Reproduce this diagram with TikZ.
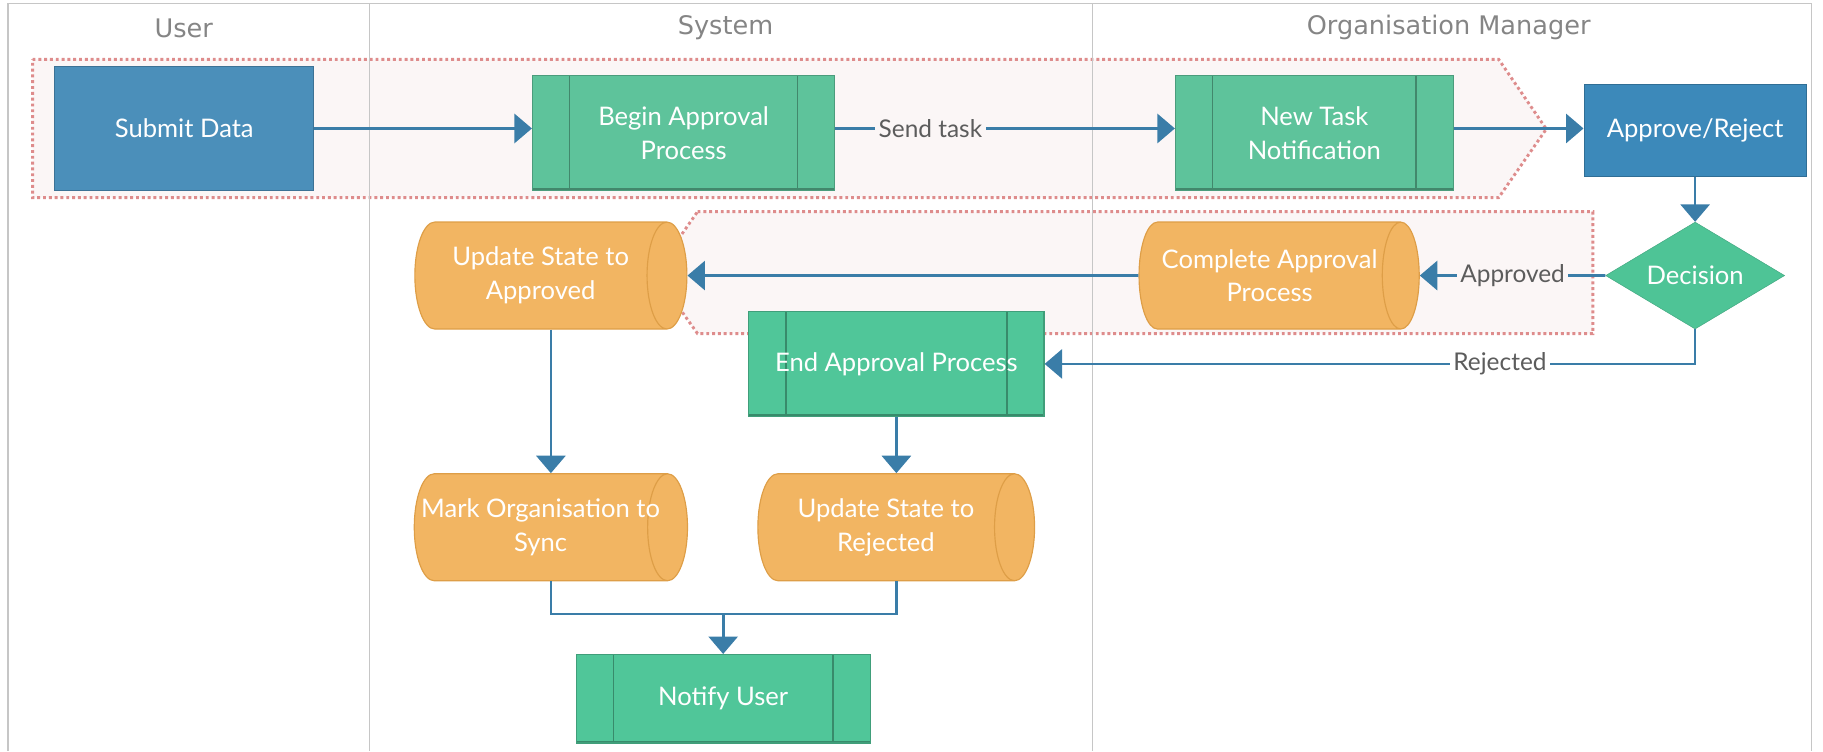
\documentclass[tikz,border=0pt]{standalone}
\usepackage{fontspec}
\setmainfont{Lato}
\newfontfamily\lanefont{DejaVu Sans}
\usepackage{tikz}
\usetikzlibrary{arrows.meta}
\usetikzlibrary{shapes.geometric}

\definecolor{laneline}{HTML}{C6C6C6}
\definecolor{lanetext}{HTML}{858585}
\definecolor{labeltext}{HTML}{5C5C5C}
\definecolor{flowblue}{HTML}{3A7DA8}
\definecolor{userblue}{HTML}{4B8FBA}
\definecolor{mgrblue}{HTML}{3C89BA}
\definecolor{procgreen}{HTML}{5EC39B}
\definecolor{endgreen}{HTML}{50C699}
\definecolor{decgreen}{HTML}{4EC496}
\definecolor{storeorange}{HTML}{F2B562}
\definecolor{storeline}{HTML}{DE9E47}
\definecolor{groupline}{HTML}{DE8C8C}
\definecolor{groupfill}{HTML}{FBF6F6}

\begin{document}
\begin{tikzpicture}[x=1pt,y=-1pt,>/.tip={Triangle[width=25pt,length=15pt]},
	flow/.style={draw=flowblue,line width=2.3pt},
	lane/.style={text=lanetext,font=\lanefont\fontsize{22}{26}\selectfont},
	lbl/.style={text=labeltext,font=\fontsize{21}{25}\selectfont,inner sep=3pt},
	group/.style={draw=groupline,fill=groupfill,line width=2.5pt,dash pattern=on 2.5pt off 2.5pt},
	box/.style={rectangle,draw=#1!80!black,fill=#1,text=white,align=center,
		font=\fontsize{22}{29}\selectfont,line width=1pt,inner sep=0pt},
	proc/.style={box=#1,path picture={
		\draw[#1!70!black,line width=1.3pt] ([xshift=32pt]path picture bounding box.north west) -- ([xshift=32pt]path picture bounding box.south west);
		\draw[#1!70!black,line width=1.3pt] ([xshift=-32pt]path picture bounding box.north east) -- ([xshift=-32pt]path picture bounding box.south east);
		\draw[#1!70!black,line width=4pt] (path picture bounding box.south west) -- (path picture bounding box.south east);
	}},
	store/.style={cylinder,shape border rotate=0,aspect=0.7,draw=storeline,fill=storeorange,
		text=white,align=center,font=\fontsize{22}{29}\selectfont,line width=1pt,inner sep=0pt,
		minimum height=#1,minimum width=92pt},
	decide/.style={diamond,draw=decgreen!85!black,fill=decgreen,text=white,
		font=\fontsize{22}{26}\selectfont,minimum width=154pt,minimum height=92pt,inner sep=0pt,aspect=1.7}
]
\useasboundingbox (0,0) rectangle (1568,646);
\draw[group] (28,51) -- (1289,51) -- (1330,111) -- (1289,170) -- (28,170) -- cycle;
\draw[group] (600,182) -- (1370,182) -- (1370,287) -- (600,287) -- (563,235) -- cycle;
\draw[laneline,line width=1.2pt] (7,646) -- (7,3) -- (1558,3) -- (1558,646);
\foreach \x in {318,940} {
	\draw[laneline,line width=1pt] (\x,3) -- (\x,646);
}
\foreach \x/\t in {158/User,624/System,1246/Organisation Manager} {
	\draw (\x,24) node[lane] (h\x) {\t};
}

\draw (158.5,110.5) node[box=userblue,minimum width=223pt,minimum height=107pt] (submit) {Submit Data};
\draw (588,114.5) node[proc=procgreen,minimum width=260pt,minimum height=99pt] (begin) {Begin Approval\\Process};
\draw (1130.5,114.5) node[proc=procgreen,minimum width=239pt,minimum height=99pt] (newtask) {New Task\\Notification};
\draw (1458,112.5) node[box=mgrblue,minimum width=191pt,minimum height=79pt] (approve) {Approve/Reject};
\draw (1458,237) node[decide] (decision) {Decision};
\draw (1092,237) node[store=241pt] (complete) {Complete Approval\\Process};
\draw (465,237) node[store=234pt] (updappr) {Update State to\\Approved};
\draw (771,313) node[proc=endgreen,minimum width=254pt,minimum height=90pt] (endproc) {End Approval Process};
\draw (465,453.5) node[store=235pt] (markorg) {\makebox[0pt]{Mark Organisation to}\\Sync};
\draw (762,453.5) node[store=238pt] (updrej) {Update State to\\Rejected};
\draw (622,601) node[proc=endgreen,minimum width=253pt,minimum height=76pt] (notify) {Notify User};
\coordinate (merge) at (622,528);

\draw[flow,->] (submit) -- (submit -| begin.west);
\draw[flow,->] (submit -| begin.east) -- node[lbl,fill=groupfill,pos=0.28] (sendtask) {Send task} (submit -| newtask.west);
\draw[flow,->] (submit -| newtask.east) -- (submit -| approve.west);
\draw[flow,->] (approve) -- (decision);
\draw[flow,->] (decision) -- node[lbl,fill=groupfill] (approved) {Approved} (complete);
\draw[flow,->] (complete) -- (updappr);
\draw[flow,->] (decision) |- node[lbl,fill=white,pos=0.65] (rejected) {Rejected} (endproc);
\draw[flow,->] (updappr.shape center |- updappr.south) -- (markorg.shape center |- markorg.north);
\draw[flow,->] (endproc) -- (endproc |- updrej.north);
\draw[flow] (markorg.shape center |- markorg.south) |- (merge) -| (updrej.shape center |- updrej.south);
\draw[flow,->] (merge) -- (notify);
\end{tikzpicture}
\end{document}
